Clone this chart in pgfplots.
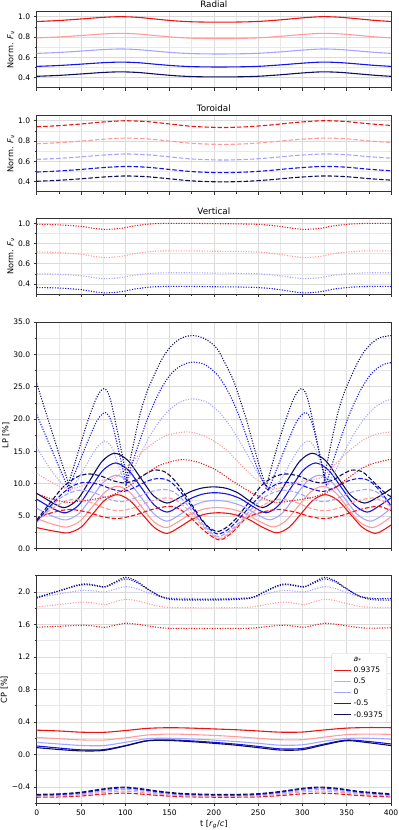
\documentclass[border=0pt]{standalone}
\usepackage{fontspec}
\setmainfont{DejaVu Sans}
\usepackage{pgfplots}
\pgfplotsset{compat=1.18}
\definecolor{cA}{RGB}{235,20,20}
\definecolor{cB}{RGB}{255,155,155}
\definecolor{cC}{RGB}{165,165,255}
\definecolor{cD}{RGB}{20,20,235}
\definecolor{cE}{RGB}{15,15,95}
\pgfplotsset{
 base/.style={
  scale only axis, width=354.3bp, xmin=0, xmax=400,
  xtick={0,50,...,400}, minor xtick={25,75,...,375},
  grid=both, major grid style={gray!28, line width=0.6pt}, minor grid style={gray!18, line width=0.6pt},
  tick align=outside, tick pos=left,
  major tick length=3bp, minor tick length=2bp,
  every tick/.style={black!80, line width=0.6pt},
  axis line style={black!80, line width=0.7pt},
  tick label style={font=\fontsize{7.6}{8}\selectfont},
  /pgf/number format/assume math mode=true,
  label style={font=\fontsize{8.2}{9}\selectfont},
  title style={font=\fontsize{8.8}{10}\selectfont, anchor=base, yshift=-1.8bp},
  clip=true,
 },
 normax/.style={base, ymin=0.3, ymax=1.05, ytick={0.4,0.6,0.8,1.0}, yticklabels={0.4,0.6,0.8,1.0},
  minor ytick={0.5,0.7,0.9}, xticklabels={}, ylabel={Norm. \textit{F}\textsubscript{\textit{ν}}},
  ylabel style={yshift=-3bp}},
 sol/.style={line width=1.1pt, smooth},
 das/.style={line width=1.1pt, smooth, dash pattern=on 4.5pt off 2pt},
 dot/.style={line width=1.1pt, smooth, dash pattern=on 1.1pt off 1.5pt},
}
\begin{document}
\begin{tikzpicture}
\useasboundingbox (0bp,0bp) rectangle (399bp,-830bp);
% ---------------- Radial
\begin{axis}[normax, at={(36.7bp,-11.6bp)}, anchor=north west, height=76.2bp, title={Radial}]
\addplot[color=cA,sol] coordinates {(0,0.9525)(25,0.9622)(50,0.9773)(75,0.9935)(95,1.0)(115,0.993)(135,0.9757)(155,0.9595)(175,0.9498)(200,0.946)(225,0.9471)(250,0.953)(275,0.9687)(300,0.9881)(322,1.0)(342,0.9946)(362,0.9795)(382,0.9633)(400,0.9525)};
\addplot[color=cB,sol] coordinates {(0,0.7911)(25,0.8003)(50,0.8146)(75,0.8299)(95,0.836)(115,0.8294)(135,0.8131)(155,0.7978)(175,0.7886)(200,0.785)(225,0.786)(250,0.7916)(275,0.8064)(300,0.8248)(322,0.836)(342,0.8309)(362,0.8166)(382,0.8013)(400,0.7911)};
\addplot[color=cC,sol] coordinates {(0,0.6389)(25,0.6477)(50,0.6614)(75,0.6761)(95,0.682)(115,0.6756)(135,0.66)(155,0.6453)(175,0.6364)(200,0.633)(225,0.634)(250,0.6394)(275,0.6536)(300,0.6712)(322,0.682)(342,0.6771)(362,0.6634)(382,0.6487)(400,0.6389)};
\addplot[color=cD,sol] coordinates {(0,0.5108)(25,0.5194)(50,0.5328)(75,0.5472)(95,0.553)(115,0.5468)(135,0.5314)(155,0.517)(175,0.5084)(200,0.505)(225,0.506)(250,0.5112)(275,0.5252)(300,0.5424)(322,0.553)(342,0.5482)(362,0.5348)(382,0.5204)(400,0.5108)};
\addplot[color=cE,sol] coordinates {(0,0.413)(25,0.422)(50,0.436)(75,0.451)(95,0.457)(115,0.4505)(135,0.4345)(155,0.4195)(175,0.4105)(200,0.407)(225,0.408)(250,0.4135)(275,0.428)(300,0.446)(322,0.457)(342,0.452)(362,0.438)(382,0.423)(400,0.413)};
\end{axis}
% ---------------- Toroidal
\begin{axis}[normax, at={(36.7bp,-115.7bp)}, anchor=north west, height=76bp, title={Toroidal}]
\addplot[color=cA,das] coordinates {(0,0.9406)(25,0.9518)(50,0.9683)(75,0.9881)(100,1.0)(125,0.9914)(150,0.9683)(175,0.9452)(200,0.9353)(215,0.934)(240,0.9419)(265,0.9591)(290,0.9815)(315,0.9974)(330,1.0)(350,0.9921)(375,0.9703)(400,0.9538)};
\addplot[color=cB,das] coordinates {(0,0.7732)(25,0.7837)(50,0.7992)(75,0.8178)(100,0.829)(125,0.8209)(150,0.7992)(175,0.7775)(200,0.7682)(215,0.767)(240,0.7744)(265,0.7906)(290,0.8116)(315,0.8265)(330,0.829)(350,0.8216)(375,0.8011)(400,0.7856)};
\addplot[color=cC,das] coordinates {(0,0.6189)(25,0.6289)(50,0.6437)(75,0.6614)(100,0.672)(125,0.6643)(150,0.6437)(175,0.623)(200,0.6142)(215,0.613)(240,0.6201)(265,0.6354)(290,0.6555)(315,0.6696)(330,0.672)(350,0.6649)(375,0.6455)(400,0.6307)};
\addplot[color=cD,das] coordinates {(0,0.4941)(25,0.5045)(50,0.5197)(75,0.538)(100,0.549)(125,0.5411)(150,0.5197)(175,0.4984)(200,0.4892)(215,0.488)(240,0.4953)(265,0.5112)(290,0.5319)(315,0.5466)(330,0.549)(350,0.5417)(375,0.5216)(400,0.5063)};
\addplot[color=cE,das] coordinates {(0,0.4028)(25,0.4127)(50,0.4272)(75,0.4446)(100,0.455)(125,0.4475)(150,0.4272)(175,0.4069)(200,0.3982)(215,0.397)(240,0.404)(265,0.419)(290,0.4388)(315,0.4527)(330,0.455)(350,0.448)(375,0.4289)(400,0.4144)};
\end{axis}
% ---------------- Vertical
\begin{axis}[normax, at={(36.7bp,-218.3bp)}, anchor=north west, height=75.7bp, title={Vertical}]
\addplot[color=cA,dot] coordinates {(0,0.99)(25,0.985)(50,0.97)(65,0.95)(78,0.94)(95,0.95)(110,0.975)(130,0.995)(150,1.0)(175,1.0)(200,0.997)(225,0.995)(250,0.99)(270,0.975)(290,0.95)(302,0.94)(320,0.95)(335,0.975)(355,0.993)(375,1.0)(400,1.0)};
\addplot[color=cB,dot] coordinates {(0,0.7158)(25,0.7105)(50,0.694)(65,0.6722)(78,0.661)(95,0.6722)(110,0.6993)(130,0.7217)(150,0.727)(175,0.727)(200,0.7237)(225,0.7217)(250,0.7158)(270,0.6993)(290,0.6722)(302,0.661)(320,0.6722)(335,0.6993)(355,0.7191)(375,0.727)(400,0.727)};
\addplot[color=cC,dot] coordinates {(0,0.5001)(25,0.4955)(50,0.481)(65,0.4619)(78,0.452)(95,0.4619)(110,0.4856)(130,0.5054)(150,0.51)(175,0.51)(200,0.5071)(225,0.5054)(250,0.5001)(270,0.4856)(290,0.4619)(302,0.452)(320,0.4619)(335,0.4856)(355,0.503)(375,0.51)(400,0.51)};
\addplot[color=cD,dot] coordinates {(0,0.3641)(25,0.359)(50,0.343)(65,0.3219)(78,0.311)(95,0.3219)(110,0.3481)(130,0.3699)(150,0.375)(175,0.375)(200,0.3718)(225,0.3699)(250,0.3641)(270,0.3481)(290,0.3219)(302,0.311)(320,0.3219)(335,0.3481)(355,0.3673)(375,0.375)(400,0.375)};
\addplot[color=cE,dot] coordinates {(0,0.2741)(25,0.269)(50,0.253)(65,0.2319)(78,0.221)(95,0.2319)(110,0.2581)(130,0.2799)(150,0.285)(175,0.285)(200,0.2818)(225,0.2799)(250,0.2741)(270,0.2581)(290,0.2319)(302,0.221)(320,0.2319)(335,0.2581)(355,0.2773)(375,0.285)(400,0.285)};
\end{axis}
% ---------------- LP
\begin{axis}[base, at={(36.7bp,-322bp)}, anchor=north west, height=226.3bp, ymin=0, ymax=35,
  ytick={0,5,...,35}, yticklabels={0.0,5.0,10.0,15.0,20.0,25.0,30.0,35.0}, minor ytick={2.5,7.5,...,32.5},
  xticklabels={}, ylabel={LP [\%]}, ylabel style={yshift=-3bp}]
% solid (radial)
\addplot[color=cA,sol] coordinates {(0,3.2)(12,2.85)(24,2.55)(36,2.4)(50,3.26)(63.5,5.35)(77,7.45)(91,8.3)(105,7.42)(119,5.3)(133,3.2)(147,2.3)(161,3.26)(176,4.54)(190,5.28)(205,5.5)(221,5.29)(238,4.57)(254,3.33)(271,2.4)(285,3.26)(298.5,5.35)(312,7.45)(326,8.3)(340,7.42)(354,5.3)(368,3.2)(382,2.3)(391,2.8)(400,3.6)};
\addplot[color=cB,sol] coordinates {(0,4.6)(12,4.0)(24,3.5)(35,3.3)(49,4.22)(63,6.45)(77,8.68)(91,9.6)(105,8.67)(118.5,6.4)(132,4.13)(146,3.2)(160,4.13)(174.5,5.37)(189,6.08)(203,6.3)(219,6.09)(235,5.4)(251,4.2)(267,3.3)(281,4.22)(295,6.45)(309,8.68)(323,9.6)(337,8.67)(350.5,6.4)(364,4.13)(378,3.2)(389,3.8)(400,4.9)};
\addplot[color=cC,sol] coordinates {(0,6.2)(11,5.4)(23,4.7)(34,4.4)(48,5.41)(62,7.85)(76,10.29)(90,11.3)(104,10.26)(118.5,7.75)(133,5.24)(147,4.2)(161,5.16)(174.5,6.44)(188,7.18)(202,7.4)(217,7.19)(232.5,6.5)(248,5.3)(263,4.4)(277,5.41)(291,7.85)(305,10.29)(319,11.3)(333,10.26)(347.5,7.75)(362,5.24)(376,4.2)(388,4.9)(400,6.2)};
\addplot[color=cD,sol] coordinates {(0,7.6)(11,6.7)(22,5.9)(33,5.5)(47,6.62)(61,9.35)(75,12.08)(89,13.2)(103.5,12.08)(118,9.4)(132.5,6.72)(147,5.6)(160.5,6.5)(174,7.7)(187.5,8.39)(201,8.6)(215.5,8.38)(230,7.67)(244.5,6.43)(259,5.5)(273,6.62)(287,9.35)(301,12.08)(315,13.2)(329.5,12.08)(344,9.4)(358.5,6.72)(373,5.6)(386,6.5)(400,7.8)};
\addplot[color=cE,sol] coordinates {(0,8.5)(11,7.6)(21,6.8)(32,6.3)(46,7.53)(60,10.5)(74,13.47)(88,14.7)(103,13.58)(117.5,10.85)(132,8.12)(147,7.0)(160,7.75)(173.5,8.75)(187,9.33)(200,9.5)(214,9.28)(227.5,8.54)(241,7.26)(255,6.3)(269,7.53)(283,10.5)(297,13.47)(311,14.7)(326,13.58)(340.5,10.85)(355,8.12)(370,7.0)(385,7.9)(400,9.2)};
% dashed (toroidal)
\addplot[color=cA,das] coordinates {(0,4.5)(10,5.2)(20,5.6)(30,5.9)(40,6.0)(57,5.6)(74,4.9)(91,4.6)(110,5.1)(130,6.0)(150,6.5)(162,6.0)(174,4.7)(186,3.1)(197,1.9)(208,1.3)(222,2.6)(235,4.5)(245,5.2)(255,5.6)(265,5.9)(275,6.0)(292,5.6)(309,4.9)(326,4.6)(345,5.1)(365,6.0)(385,6.5)(397,6.0)(400,5.8)};
\addplot[color=cB,das] coordinates {(0,4.2)(12,5.6)(24,6.7)(35,7.4)(45,7.6)(61,7.1)(77,6.2)(93,5.8)(111,6.3)(129,7.3)(147,7.8)(159,7.3)(171,5.9)(183,4.1)(195,2.4)(207,1.5)(220,2.6)(232,4.2)(244,5.6)(256,6.7)(267,7.4)(277,7.6)(293,7.1)(309,6.2)(325,5.8)(343,6.3)(361,7.3)(379,7.8)(391,7.3)(400,6.4)};
\addplot[color=cC,das] coordinates {(0,4.0)(13,6.0)(26,7.7)(38,8.6)(50,9.0)(65,8.6)(80,7.7)(95,7.2)(110,7.7)(127,8.7)(143,9.1)(155,8.7)(167,7.2)(179,5.1)(191,3.2)(199,2.2)(206,1.8)(217,2.6)(229,4.0)(242,6.0)(255,7.7)(267,8.6)(279,9.0)(294,8.6)(309,7.7)(324,7.2)(339,7.7)(356,8.7)(372,9.1)(384,8.7)(396,7.2)(400,6.6)};
\addplot[color=cD,das] coordinates {(0,4.2)(15,6.5)(30,8.6)(43,9.8)(55,10.2)(70,9.9)(84,9.2)(98,8.8)(112,9.5)(125,10.4)(138,10.8)(150,10.4)(162,8.8)(174,6.6)(186,4.4)(196,2.9)(205,2.2)(216,2.9)(226,4.2)(241,6.5)(256,8.6)(269,9.8)(281,10.2)(296,9.9)(310,9.2)(324,8.8)(338,9.5)(351,10.4)(364,10.8)(376,10.4)(388,8.8)(400,6.6)};
\addplot[color=cE,das] coordinates {(0,4.4)(15,7.0)(30,9.5)(45,11.0)(58,11.5)(72,11.2)(85,10.5)(99,10.1)(112,10.6)(123,11.5)(133,12.1)(145,11.8)(157,10.3)(170,7.8)(182,5.3)(193,3.4)(204,2.6)(215,3.3)(225,4.6)(240,7.2)(253,9.6)(267,11.0)(281,11.5)(295,11.2)(308,10.5)(322,10.1)(335,10.6)(346,11.5)(356,12.1)(368,11.8)(380,10.3)(393,8.6)(400,8.0)};
% dotted (vertical)
\addplot[color=cA,dot] coordinates {(0,8.4)(20,7.5)(36,7.1)(55,7.4)(77,7.9)(95,8.8)(110,10.2)(125,11.7)(140,12.9)(162,13.7)(180,13.4)(200,12.3)(220,10.5)(240,8.8)(258,7.6)(271,7.1)(290,7.4)(312,7.9)(330,8.8)(345,10.2)(360,11.7)(375,12.9)(397,13.7)(400,13.7)};
\addplot[color=cB,dot] coordinates {(0,11.6)(12,10.6)(24,9.7)(36,9.2)(50,9.6)(65,10.3)(77,10.6)(90,11.0)(105,13.0)(120,15.0)(135,16.6)(150,17.6)(169,18.0)(185,17.6)(200,16.6)(215,15.1)(230,13.0)(245,11.0)(258,9.8)(268,9.2)(282,9.6)(297,10.3)(309,10.6)(322,11.0)(337,13.0)(352,15.0)(367,16.6)(382,17.6)(400,18.0)};
\addplot[color=cC,dot] coordinates {(0,15.6)(10,13.4)(20,11.4)(30,9.8)(38,9.0)(38,9.0)(48,11.0)(58,13.4)(68,15.6)(73,16.3)(77,16.6)(81,16.3)(86,15.3)(92,12.9)(100,10.0)(100,10.0)(108,11.9)(118,14.8)(128,17.4)(140,19.9)(152,21.7)(165,22.8)(178,23.1)(192,22.6)(205,21.2)(218,19.0)(232,15.9)(245,12.7)(256,10.3)(265,8.8)(265,8.8)(277,11.0)(287,13.4)(297,15.6)(302,16.3)(306,16.6)(310,16.3)(315,15.3)(321,12.9)(329,10.0)(329,10.0)(337,11.9)(347,14.8)(357,17.4)(369,19.9)(381,21.7)(394,22.8)(400,23.0)};
\addplot[color=cD,dot] coordinates {(0,20.7)(9,17.8)(18,14.9)(27,12.0)(36,9.2)(36,9.2)(46,12.6)(56,16.0)(66,19.2)(72,20.5)(77,21.0)(81,20.6)(85,19.3)(89,17.2)(95,13.6)(101,10.0)(101,10.0)(108,13.2)(117,16.9)(125,20.0)(133,22.6)(141,24.8)(150,26.7)(160,28.0)(169,28.6)(178,28.8)(190,28.4)(203,27.0)(213,25.0)(223,22.3)(232,19.2)(240,16.0)(248,12.8)(255,10.4)(262,9.2)(262,9.2)(272,12.6)(282,16.0)(292,19.2)(298,20.5)(303,21.0)(307,20.6)(311,19.3)(315,17.2)(321,13.6)(327,10.0)(327,10.0)(334,13.2)(343,16.9)(351,20.0)(359,22.6)(367,24.8)(376,26.7)(386,28.0)(395,28.6)(400,28.7)};
\addplot[color=cE,dot] coordinates {(0,25.5)(9,21.6)(18,17.7)(27,13.8)(36,10.0)(36,10.0)(46,14.5)(56,19.0)(66,22.8)(72,24.3)(76,24.7)(80,24.2)(84,22.6)(88.5,19.8)(95,15.5)(101.6,11.0)(101.6,11.0)(108,15.3)(116.6,20.7)(124,24.0)(131.7,26.5)(140,28.9)(146.7,30.4)(155,31.7)(165,32.6)(177,32.9)(190,32.4)(203,31.0)(212,28.8)(222,26.0)(230,22.8)(237,19.8)(245,15.8)(253,12.0)(259,9.5)(259,9.5)(269,14.5)(279,19.0)(289,22.8)(295,24.3)(299,24.7)(303,24.2)(307,22.6)(311.5,19.8)(318,15.5)(324.6,11.0)(324.6,11.0)(331,15.3)(339.6,20.7)(347,24.0)(354.7,26.5)(363,28.9)(369.7,30.4)(378,31.7)(388,32.6)(400,32.9)};
\end{axis}
% ---------------- CP
\begin{axis}[base, at={(36.7bp,-575.7bp)}, anchor=north west, height=227.6bp, ymin=-0.6, ymax=2.2,
  ytick={-0.4,0,0.4,0.8,1.2,1.6,2.0}, yticklabels={−0.4,0.0,0.4,0.8,1.2,1.6,2.0},
  minor ytick={-0.6,-0.2,0.2,0.6,1.0,1.4,1.8,2.2},
  xticklabels={0,50,100,150,200,250,300,350,400},
  xlabel={t [\textit{r}\textsubscript{\textit{g}}/\textit{c}]}, ylabel={CP [\%]}, ylabel style={yshift=-3bp},
  xlabel style={yshift=2bp},
  legend style={at={(0.989,0.66)}, anchor=north east, font=\fontsize{7.6}{9}\selectfont,
    draw=gray!35, rounded corners=2pt, fill=white, inner sep=2pt, row sep=0pt},
  legend cell align=left]
\addlegendimage{empty legend}\addlegendentry{\textit{a}\textsubscript{*}}
% solid
\addplot[color=cA,sol] coordinates {(0,0.30)(25,0.29)(50,0.275)(75,0.273)(100,0.295)(125,0.322)(150,0.33)(175,0.325)(200,0.315)(225,0.305)(250,0.29)(275,0.275)(300,0.277)(325,0.303)(350,0.325)(375,0.332)(400,0.33)};
\addlegendentry{0.9375}
\addplot[color=cB,sol] coordinates {(0,0.21)(25,0.195)(50,0.18)(75,0.178)(100,0.205)(125,0.24)(150,0.252)(175,0.246)(200,0.235)(225,0.22)(250,0.2)(275,0.182)(300,0.183)(325,0.215)(350,0.245)(375,0.252)(400,0.248)};
\addlegendentry{0.5}
\addplot[color=cC,sol] coordinates {(0,0.15)(25,0.13)(50,0.112)(75,0.11)(100,0.15)(125,0.195)(150,0.2)(175,0.192)(200,0.178)(225,0.16)(250,0.138)(275,0.115)(300,0.12)(325,0.165)(350,0.198)(375,0.2)(400,0.19)};
\addlegendentry{0}
\addplot[color=cD,sol] coordinates {(0,0.105)(25,0.08)(50,0.058)(75,0.06)(100,0.11)(125,0.172)(150,0.18)(175,0.168)(200,0.15)(225,0.128)(250,0.1)(275,0.07)(300,0.075)(325,0.13)(350,0.178)(375,0.16)(400,0.13)};
\addlegendentry{-0.5}
\addplot[color=cE,sol] coordinates {(0,0.085)(25,0.062)(50,0.045)(75,0.05)(100,0.105)(125,0.168)(150,0.172)(175,0.158)(200,0.138)(225,0.115)(250,0.085)(275,0.055)(300,0.06)(325,0.12)(350,0.17)(375,0.145)(400,0.11)};
\addlegendentry{-0.9375}
% dashed
\addplot[color=cA,das] coordinates {(0,-0.525)(25,-0.5215)(50,-0.51)(75,-0.4875)(97,-0.475)(115,-0.484)(140,-0.505)(165,-0.519)(200,-0.525)(225,-0.525)(250,-0.5205)(275,-0.505)(300,-0.4835)(320,-0.475)(340,-0.484)(365,-0.505)(400,-0.5215)};
\addplot[color=cB,das] coordinates {(0,-0.515)(25,-0.5105)(50,-0.4955)(75,-0.4663)(97,-0.45)(115,-0.4617)(140,-0.489)(165,-0.5072)(200,-0.515)(225,-0.515)(250,-0.5092)(275,-0.489)(300,-0.461)(320,-0.45)(340,-0.4617)(365,-0.489)(400,-0.5105)};
\addplot[color=cC,das] coordinates {(0,-0.507)(25,-0.5016)(50,-0.4839)(75,-0.4493)(97,-0.43)(115,-0.4439)(140,-0.4762)(165,-0.4978)(200,-0.507)(225,-0.507)(250,-0.5001)(275,-0.4762)(300,-0.4431)(320,-0.43)(340,-0.4439)(365,-0.4762)(400,-0.5016)};
\addplot[color=cD,das] coordinates {(0,-0.498)(25,-0.4918)(50,-0.4716)(75,-0.432)(97,-0.41)(115,-0.4258)(140,-0.4628)(165,-0.4874)(200,-0.498)(225,-0.498)(250,-0.4901)(275,-0.4628)(300,-0.425)(320,-0.41)(340,-0.4258)(365,-0.4628)(400,-0.4918)};
\addplot[color=cE,das] coordinates {(0,-0.49)(25,-0.4837)(50,-0.463)(75,-0.4225)(97,-0.40)(115,-0.4162)(140,-0.454)(165,-0.4792)(200,-0.49)(225,-0.49)(250,-0.4819)(275,-0.454)(300,-0.4153)(320,-0.40)(340,-0.4162)(365,-0.454)(400,-0.4837)};
% dotted
\addplot[color=cA,dot] coordinates {(0,1.565)(15,1.573)(30,1.58)(45,1.588)(55,1.59)(65,1.58)(77,1.565)(88,1.59)(100,1.615)(112,1.605)(125,1.583)(140,1.56)(155,1.552)(200,1.55)(240,1.554)(255,1.568)(270,1.585)(280,1.59)(290,1.58)(302,1.565)(313,1.59)(325,1.615)(337,1.605)(350,1.583)(365,1.56)(380,1.555)(400,1.56)};
\addplot[color=cB,dot] coordinates {(0,1.815)(15,1.833)(30,1.851)(45,1.869)(55,1.875)(65,1.863)(77,1.845)(88,1.878)(100,1.91)(112,1.894)(125,1.858)(140,1.821)(155,1.808)(200,1.805)(240,1.812)(255,1.836)(270,1.865)(280,1.875)(290,1.863)(302,1.845)(313,1.878)(325,1.91)(337,1.894)(350,1.858)(365,1.821)(380,1.81)(400,1.81)};
\addplot[color=cC,dot] coordinates {(0,1.93)(15,1.957)(30,1.984)(45,2.011)(55,2.02)(65,2.012)(77,2.0)(88,2.032)(100,2.065)(112,2.043)(125,1.993)(140,1.942)(155,1.925)(200,1.92)(240,1.93)(255,1.965)(270,2.005)(280,2.02)(290,2.012)(302,2.0)(313,2.032)(325,2.065)(337,2.043)(350,1.993)(365,1.942)(380,1.92)(400,1.915)};
\addplot[color=cD,dot] coordinates {(0,1.935)(15,1.982)(30,2.028)(45,2.075)(55,2.09)(65,2.078)(77,2.06)(88,2.11)(100,2.16)(112,2.123)(125,2.035)(140,1.948)(155,1.915)(200,1.91)(240,1.928)(255,1.99)(270,2.063)(280,2.09)(290,2.078)(302,2.06)(313,2.11)(325,2.16)(337,2.123)(350,2.035)(365,1.948)(380,1.92)(400,1.92)};
\addplot[color=cE,dot] coordinates {(0,1.925)(15,1.978)(30,2.03)(45,2.083)(55,2.10)(65,2.086)(77,2.065)(88,2.12)(100,2.18)(112,2.138)(125,2.04)(140,1.942)(155,1.905)(200,1.90)(240,1.92)(255,1.99)(270,2.07)(280,2.10)(290,2.086)(302,2.065)(313,2.12)(325,2.18)(337,2.138)(350,2.04)(365,1.942)(380,1.905)(400,1.90)};
\end{axis}
\end{tikzpicture}
\end{document}
